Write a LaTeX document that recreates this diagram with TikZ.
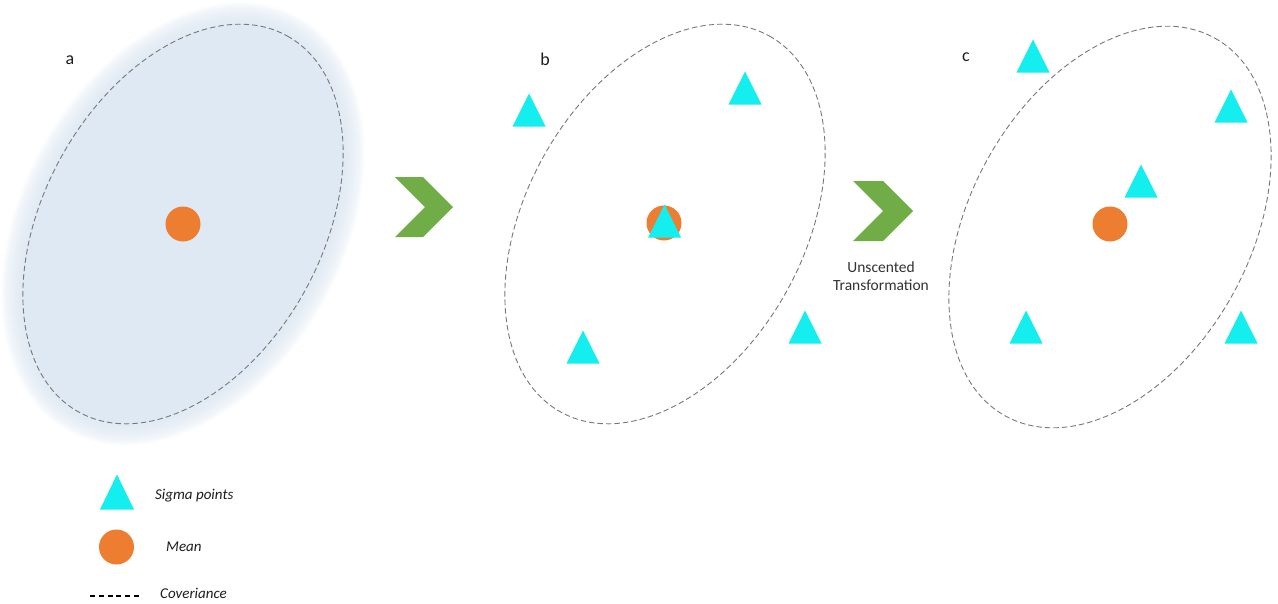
\documentclass[tikz,border=0pt]{standalone}
\usepackage{fontspec}
\setmainfont{Carlito}
\definecolor{glowblue}{RGB}{222,233,244}
\definecolor{meanor}{RGB}{237,125,49}
\definecolor{sigcol}{RGB}{20,238,238}
\definecolor{chev}{RGB}{112,173,71}
\definecolor{covgray}{RGB}{120,120,120}
\definecolor{txt}{RGB}{30,30,30}
\tikzset{
  mean/.style={circle,fill=meanor,minimum size=35pt,inner sep=0pt},
  cov/.style={draw=covgray,line width=0.9pt,dash pattern=on 5.5pt off 3pt},
  sigma/.pic={\fill[sigcol] (-16.5,16.5) -- (16.5,16.5) -- (0,-16.5) -- cycle;},
  bigsigma/.pic={\fill[sigcol] (-17,17.5) -- (17,17.5) -- (0,-17.5) -- cycle;},
  panel/.style={font=\fontsize{18}{20}\selectfont,text=txt,inner sep=0pt},
  legtext/.style={font=\fontsize{15}{18}\selectfont\itshape,text=txt,inner sep=0pt,anchor=west},
  chevron/.style={fill=chev}
}
\begin{document}
\begin{tikzpicture}[x=1pt,y=-1pt]
\useasboundingbox (0,0) rectangle (1278,603);
\fill[white] (0,0) rectangle (1278,603);
% panel a : glow
\coordinate (ca) at (183,224);
\foreach \k in {22,20,...,2}{
  \fill[glowblue,opacity=0.13,rotate around={61:(ca)}] (ca) ellipse [x radius=215+\k, y radius=139+\k];
}
\fill[glowblue,rotate around={61:(ca)}] (ca) ellipse [x radius=215, y radius=139];
\draw[cov,rotate around={61:(ca)}] (ca) ellipse [x radius=215, y radius=139];
\node[mean] (ma) at (ca) {};
\node[panel] (la) at (70,60) {a};
% chevron 1
\fill[chevron] (395,177) -- (423,177) -- (453,207) -- (423,237) -- (395,237) -- (425,207) -- cycle;
% panel b
\coordinate (cb) at (665,224);
\draw[cov,rotate around={61:(cb)}] (cb) ellipse [x radius=215, y radius=139];
\node[mean] (mb) at (664,223) {};
\pic (b1) at (529,110) {sigma};
\pic (b2) at (745,88) {sigma};
\pic (b3) at (664.5,221) {sigma};
\pic (b4) at (583,347) {sigma};
\pic (b5) at (805,327) {sigma};
\node[panel] (lb) at (545,59) {b};
% chevron 2
\fill[chevron] (853,181) -- (883,181) -- (913,211) -- (883,241) -- (853,241) -- (883,211) -- cycle;
\node[panel,align=center,font=\fontsize{15.5}{18}\selectfont,text={rgb,255:red,50;green,50;blue,50}] (ut) at (881,276) {Unscented\\Transformation};
% panel c
\coordinate (cc) at (1110,227);
\draw[cov,rotate around={61:(cc)}] (cc) ellipse [x radius=216, y radius=140];
\node[mean] (mc) at (1110,224) {};
\pic (c1) at (1033,56) {sigma};
\pic (c2) at (1231,106) {sigma};
\pic (c3) at (1141,181) {sigma};
\pic (c4) at (1026,327) {sigma};
\pic (c5) at (1241,327) {sigma};
\node[panel] (lc) at (966,57) {c};
% legend
\pic (ls) at (117,492) {bigsigma};
\node[legtext] (lst) at (155,496) {Sigma points};
\node[mean] (lm) at (116.5,547) {};
\node[legtext] (lmt) at (166,547) {Mean};
\coordinate (d1) at (90,596);
\coordinate (d2) at (139,596);
\draw[black,line width=2.2pt,dash pattern=on 5pt off 3.8pt] (d1) -- (d2);
\node[legtext] (lct) at (160,593) {Coveriance};
\end{tikzpicture}
\end{document}
